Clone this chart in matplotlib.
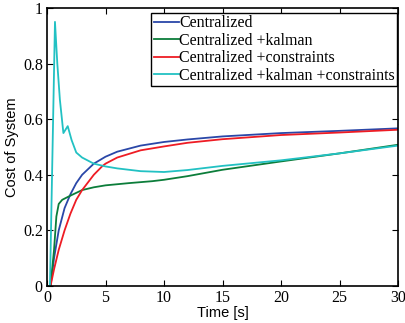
import numpy as np
import matplotlib.pyplot as plt

# data (time [s], cost)
t_cen = [0, 0.3, 0.6, 1.0, 1.5, 2, 2.5, 3, 4, 5, 6, 8, 10, 12, 15, 20, 25, 30]
v_cen = [0, 0, 0.10, 0.20, 0.28, 0.33, 0.37, 0.40, 0.44, 0.465, 0.483, 0.505, 0.518, 0.527, 0.538, 0.55, 0.558, 0.567]

t_kal = [0, 0.3, 0.6, 0.8, 1.0, 1.3, 2, 3, 4, 5, 7, 9, 10, 12, 15, 20, 25, 30]
v_kal = [0, 0, 0.13, 0.25, 0.295, 0.31, 0.325, 0.345, 0.355, 0.362, 0.37, 0.377, 0.382, 0.395, 0.418, 0.448, 0.477, 0.508]

t_con = [0, 0.3, 0.6, 1.0, 1.5, 2, 2.5, 3, 4, 4.7, 5, 6, 8, 10, 12, 15, 20, 25, 30]
v_con = [0, 0, 0.06, 0.13, 0.20, 0.26, 0.31, 0.345, 0.40, 0.43, 0.44, 0.462, 0.488, 0.502, 0.515, 0.528, 0.543, 0.552, 0.562]

t_kc = [0, 0.25, 0.68, 0.88, 1.1, 1.4, 1.77, 2.1, 2.5, 3, 4, 5, 6, 8, 10, 12, 15, 20, 25, 30]
v_kc = [0, 0, 0.95, 0.80, 0.67, 0.55, 0.575, 0.525, 0.48, 0.462, 0.44, 0.43, 0.423, 0.413, 0.41, 0.417, 0.432, 0.452, 0.477, 0.505]

labels = ['Centralized', 'Centralized +kalman', 'Centralized +constraints',
          'Centralized +kalman +constraints']
colors = ['#2a47a8', '#0c7d3a', '#ee1c24', '#22c1c3']

fig = plt.figure(figsize=(4.06, 3.23), dpi=100)
ax = fig.add_axes([0.1158, 0.1146, 0.8645, 0.8607])

series = [(t_cen, v_cen), (t_kal, v_kal), (t_con, v_con), (t_kc, v_kc)]
for (t, v), lab, c in zip(series, labels, colors):
    ax.plot(t, v, color=c, linewidth=1.3, label=lab)

ax.set_xlim(0, 30)
ax.set_ylim(0, 1)
ax.set_xticks([0, 5, 10, 15, 20, 25, 30])
ax.set_yticks([0, 0.2, 0.4, 0.6, 0.8, 1])
ax.set_yticklabels(['0', '0.2', '0.4', '0.6', '0.8', '1'])
ax.tick_params(direction='in', top=True, right=True, length=4, width=0.8,
               labelsize=11.5, pad=3)
for lbl in ax.get_xticklabels() + ax.get_yticklabels():
    lbl.set_family('Liberation Serif')
for s in ax.spines.values():
    s.set_linewidth(1.2)

ax.set_xlabel('Time [s]', family='Liberation Sans', fontsize=10.5, labelpad=0)
ax.set_ylabel('Cost of System', family='Liberation Sans', fontsize=10.5, labelpad=3)

leg = ax.legend(loc='upper right', bbox_to_anchor=(0.998, 0.983),
                prop={'family': 'Liberation Serif', 'size': 11.5},
                fancybox=False, edgecolor='black', framealpha=1,
                handlelength=1.6, handletextpad=0.0, labelspacing=0.1,
                borderpad=0.15, borderaxespad=0)
leg.get_frame().set_linewidth(1.0)

fig.savefig('out.png', dpi=100)
